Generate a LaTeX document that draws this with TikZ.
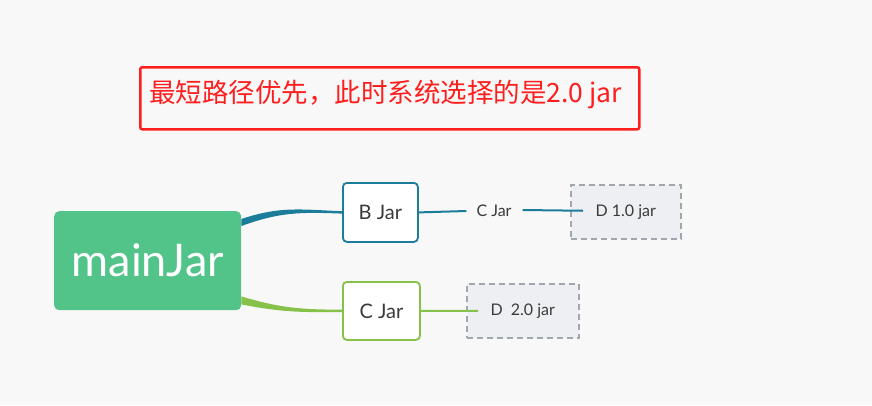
\documentclass[tikz,border=0pt]{standalone}
\usepackage{fontspec}
\setmainfont{Lato}
\newfontfamily\cjk{Noto Sans CJK SC}
\usetikzlibrary{calc}
\definecolor{bgc}{HTML}{F8F8F8}
\definecolor{redc}{HTML}{FF1E1E}
\definecolor{maing}{HTML}{52C48A}
\definecolor{teal}{HTML}{1B7D99}
\definecolor{lgreen}{HTML}{86C24A}
\definecolor{txt}{HTML}{3A3A3A}
\definecolor{dashc}{HTML}{A2A6AE}
\definecolor{dfill}{HTML}{EEEFF2}
\tikzset{
  subbox/.style={draw=#1, line width=1.8pt, fill=white, rounded corners=4pt, minimum width=75pt, minimum height=59pt, inner sep=0pt, text=txt, font=\fontsize{20}{24}\selectfont},
  dbox/.style={draw=dashc, dashed, dash pattern=on 6pt off 4pt, line width=1.5pt, fill=dfill, minimum height=54pt, inner sep=0pt, text=txt, font=\fontsize{16}{19}\selectfont},
  thinline/.style={draw=#1, line width=2pt}
}
\begin{document}
\begin{tikzpicture}[x=1pt,y=-1pt]
\fill[bgc] (0,0) rectangle (872,405);
\useasboundingbox (0,0) rectangle (872,405);
% note box
\node[draw=redc, line width=2.5pt, rounded corners=2pt, fill=bgc, minimum width=499pt, minimum height=62pt, inner sep=0pt, anchor=north west] (note) at (139,66) {};
\node[anchor=west, text=redc, inner sep=0pt] (notetext) at (149,95) {\cjk\fontsize{26.5}{31}\selectfont 最短路径优先，此时系统选择的是2.0 jar};
% main node
\node[fill=maing, rounded corners=5pt, minimum width=187pt, minimum height=99pt, inner sep=0pt, text=white, font=\fontsize{45}{52}\selectfont, anchor=north west] (main) at (54,211) {mainJar};
% sub boxes
\node[subbox=teal, anchor=north west] (bjar) at (342,182) {B Jar};
\node[subbox=lgreen, anchor=north west, minimum width=77pt, minimum height=58pt] (cjar) at (342,281) {C Jar};
% tapered connectors
\fill[teal] ($(main.north east)+(0,8)$) .. controls (280,206) and (300,209.5) .. ($(bjar.west)+(0,-1.2)$)
  -- ($(bjar.west)+(0,1.2)$) .. controls (300,212) and (280,212) .. ($(main.north east)+(0,15)$) -- cycle;
\fill[lgreen] ($(main.south east)+(0,-14)$) .. controls (280,308) and (300,309.5) .. ($(cjar.west)+(0,-1.2)$)
  -- ($(cjar.west)+(0,1.2)$) .. controls (300,312.5) and (280,312) .. ($(main.south east)+(0,-6)$) -- cycle;
% C Jar label
\node[text=txt, font=\fontsize{16}{19}\selectfont, inner sep=0pt] (clabel) at (494,211) {C Jar};
% dashed boxes
\node[dbox, anchor=north west, minimum width=110pt] (d1) at (570,184) {D 1.0 jar};
\node[dbox, anchor=north west, minimum width=112pt] (d2) at (466,283) {D\ \ 2.0 jar};
% lines
\draw[thinline=teal] (bjar.east) -- ($(clabel.west)+(-10,0)$);
\draw[thinline=teal] ($(clabel.east)+(11,-1)$) -- ($(d1.west)+(13,-1)$);
\draw[thinline=lgreen] (cjar.east) -- ($(d2.west)+(12,0)$);
\end{tikzpicture}
\end{document}
